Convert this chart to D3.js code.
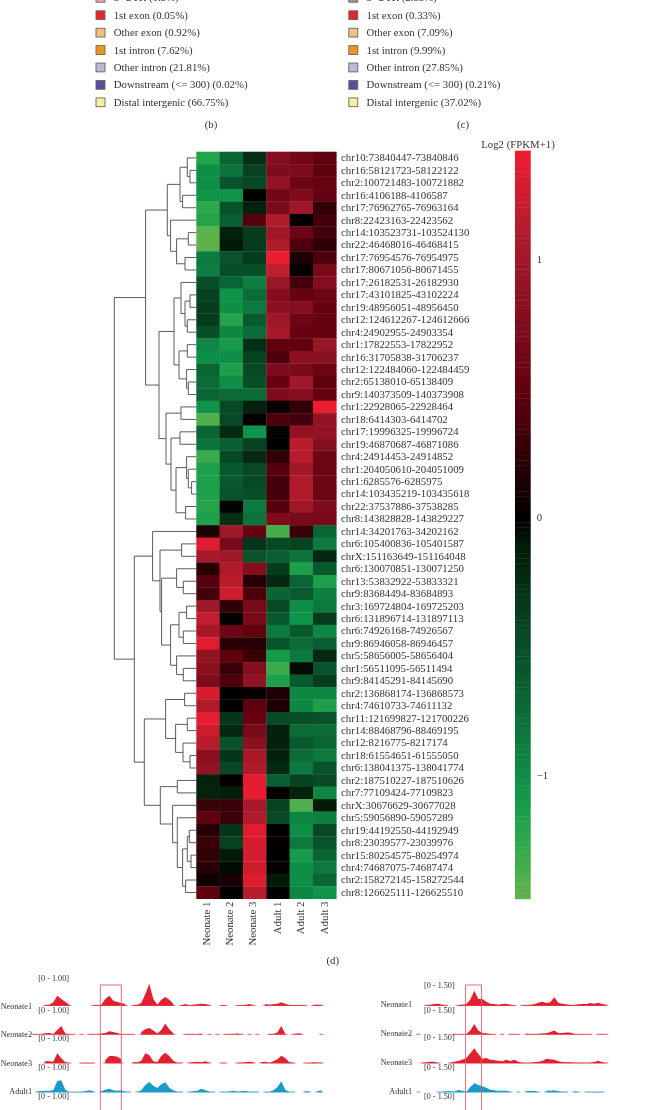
<!DOCTYPE html>
<html>
<head>
<meta charset="utf-8">
<title>Figure</title>
<script src="https://cdn.jsdelivr.net/npm/d3@7"></script>
<style>
html, body { margin: 0; padding: 0; background: #fff; }
svg { display: block; filter: blur(0.35px); }
text { font-family: "Liberation Serif", serif; fill: #333; }
</style>
</head>
<body>
<script>
// ---- data ----------------------------------------------------------------

// peak annotation legends, panels b and c
var legendNames = ["5'-UTR", "1st exon", "Other exon", "1st intron", "Other intron", "Downstream (<= 300)", "Distal intergenic"];
var legendColors = ["#f0a3a5", "#e3262e", "#f4c07c", "#f0951f", "#c4b6d6", "#5f4b97", "#f2f0a2"];
var legendPercentB = ["0.3%", "0.05%", "0.92%", "7.62%", "21.81%", "0.02%", "66.75%"];
var legendPercentC = ["2.85%", "0.33%", "7.09%", "9.99%", "27.85%", "0.21%", "37.02%"];

// heatmap, panel d
var sampleLabels = ["Neonate 1", "Neonate 2", "Neonate 3", "Adult 1", "Adult 2", "Adult 3"];
var rowLabels = [
  "chr10:73840447-73840846", "chr16:58121723-58122122", "chr2:100721483-100721882",
  "chr16:4106188-4106587", "chr17:76962765-76963164", "chr8:22423163-22423562",
  "chr14:103523731-103524130", "chr22:46468016-46468415", "chr17:76954576-76954975",
  "chr17:80671056-80671455", "chr17:26182531-26182930", "chr17:43101825-43102224",
  "chr19:48956051-48956450", "chr12:124612267-124612666", "chr4:24902955-24903354",
  "chr1:17822553-17822952", "chr16:31705838-31706237", "chr12:122484060-122484459",
  "chr2:65138010-65138409", "chr9:140373509-140373908", "chr1:22928065-22928464",
  "chr18:6414303-6414702", "chr17:19996325-19996724", "chr19:46870687-46871086",
  "chr4:24914453-24914852", "chr1:204050610-204051009", "chr1:6285576-6285975",
  "chr14:103435219-103435618", "chr22:37537886-37538285", "chr8:143828828-143829227",
  "chr14:34201763-34202162", "chr6:105400836-105401587", "chrX:151163649-151164048",
  "chr6:130070851-130071250", "chr13:53832922-53833321", "chr9:83684494-83684893",
  "chr3:169724804-169725203", "chr6:131896714-131897113", "chr6:74926168-74926567",
  "chr9:86946058-86946457", "chr5:58656005-58656404", "chr1:56511095-56511494",
  "chr9:84145291-84145690", "chr2:136868174-136868573", "chr4:74610733-74611132",
  "chr11:121699827-121700226", "chr14:88468796-88469195", "chr12:8216775-8217174",
  "chr18:61554651-61555050", "chr6:138041375-138041774", "chr2:187510227-187510626",
  "chr7:77109424-77109823", "chrX:30676629-30677028", "chr5:59056890-59057289",
  "chr19:44192550-44192949", "chr8:23039577-23039976", "chr15:80254575-80254974",
  "chr4:74687075-74687474", "chr2:158272145-158272544", "chr8:126625111-126625510"
];
var heatValues = [
  [-1.2, -0.7, -0.25, 0.8, 0.65, 0.5],
  [-1.0, -0.8, -0.4, 0.75, 0.75, 0.5],
  [-1.0, -0.55, -0.45, 0.9, 0.6, 0.55],
  [-1.05, -1.05, 0.0, 0.65, 0.75, 0.55],
  [-1.25, -0.55, -0.15, 0.7, 1.0, 0.25],
  [-1.2, -0.65, 0.45, 1.1, 0.0, 0.35],
  [-1.45, -0.15, -0.35, 1.0, 0.6, 0.35],
  [-1.45, -0.1, -0.35, 1.1, 0.4, 0.25],
  [-0.85, -0.55, -0.35, 1.4, 0.15, 0.4],
  [-0.9, -0.5, -0.5, 1.2, 0.02, 0.7],
  [-0.5, -0.7, -0.9, 0.95, 0.35, 0.8],
  [-0.4, -1.05, -0.75, 0.8, 0.55, 0.6],
  [-0.35, -1.0, -0.85, 0.85, 0.8, 0.55],
  [-0.35, -1.2, -0.6, 1.0, 0.6, 0.55],
  [-0.5, -0.95, -0.75, 1.05, 0.55, 0.55],
  [-0.95, -1.1, -0.25, 0.5, 0.5, 0.95],
  [-1.0, -1.0, -0.4, 0.4, 0.85, 0.85],
  [-0.7, -1.15, -0.45, 0.75, 0.7, 0.6],
  [-0.75, -1.0, -0.5, 0.55, 1.0, 0.5],
  [-0.7, -0.75, -0.75, 0.75, 0.8, 0.55],
  [-1.05, -0.45, -0.15, 0.03, 0.25, 1.4],
  [-1.4, -0.45, 0.0, 0.4, 0.35, 0.9],
  [-0.7, -0.2, -1.05, 0.0, 0.9, 0.9],
  [-0.8, -0.65, -0.4, 0.0, 1.15, 0.8],
  [-1.3, -0.45, -0.2, 0.25, 1.15, 0.6],
  [-1.15, -0.6, -0.45, 0.45, 1.0, 0.6],
  [-1.15, -0.6, -0.45, 0.35, 1.1, 0.6],
  [-1.15, -0.55, -0.5, 0.35, 1.1, 0.6],
  [-1.2, -0.02, -0.85, 0.45, 1.0, 0.75],
  [-1.15, -0.25, -0.8, 0.75, 0.7, 0.7],
  [0.15, 1.0, 0.55, -1.35, 0.3, -0.7],
  [1.35, 0.7, -0.3, -0.45, -0.4, -0.85],
  [1.05, 1.0, -0.55, -0.65, -0.8, -0.2],
  [0.2, 1.1, 0.8, -0.35, -1.15, -0.6],
  [0.45, 1.15, 0.2, -0.2, -0.7, -1.15],
  [0.35, 1.25, 0.4, -0.7, -0.6, -0.9],
  [1.0, 0.25, 0.7, -0.45, -1.0, -0.85],
  [1.2, 0.03, 0.7, -0.6, -1.05, -0.35],
  [1.05, 0.6, 0.5, -0.85, -0.6, -0.95],
  [1.35, 0.2, 0.2, -0.55, -0.75, -0.65],
  [0.9, 0.5, 0.3, -1.1, -0.85, -0.2],
  [0.85, 0.3, 0.8, -1.3, -0.05, -0.55],
  [0.75, 0.4, 0.9, -1.15, -0.6, -0.35],
  [1.3, 0.01, 0.03, 0.15, -0.95, -0.95],
  [1.1, 0.01, 0.5, 0.15, -0.95, -1.15],
  [1.4, -0.3, 0.55, -0.45, -0.5, -0.55],
  [1.25, -0.2, 0.7, -0.15, -0.75, -0.75],
  [1.15, -0.55, 0.85, -0.15, -0.6, -0.7],
  [0.85, -0.3, 1.05, -0.15, -0.75, -0.85],
  [0.9, -0.45, 1.1, -0.2, -0.85, -0.55],
  [-0.15, 0.02, 1.35, -0.65, -0.4, -0.45],
  [-0.15, -0.12, 1.38, 0.02, -0.15, -0.95],
  [0.3, 0.3, 1.05, -0.4, -1.4, -0.1],
  [0.5, 0.3, 1.1, -0.45, -0.95, -0.9],
  [0.2, -0.3, 1.35, 0.01, -1.0, -0.45],
  [0.3, -0.4, 1.3, 0.02, -0.85, -0.55],
  [0.25, -0.1, 1.3, 0.01, -1.1, -0.7],
  [0.2, -0.05, 1.25, 0.03, -1.0, -0.85],
  [0.08, 0.12, 1.35, -0.1, -1.0, -0.7],
  [0.5, 0.01, 1.15, 0.01, -0.95, -1.05]
];

// row dendrogram, hclust style: negative = row number, positive = earlier merge
var treeMerges = [
  [-2, -3, 6.3], [-1, 1, 9], [-4, -5, 13.7], [2, 3, 16.3], [-7, -8, 8], [-9, -10, 11.3],
  [5, 6, 19.7], [-6, 7, 25.7], [4, 8, 29], [-12, -13, 6.3], [-14, -15, 9], [10, 11, 11.3],
  [-11, 12, 15.3], [-16, -17, 9], [-19, -20, 8], [-18, 15, 9.7], [14, 16, 17.3], [13, 17, 22.3],
  [-21, -22, 15.3], [-23, -24, 16.3], [-27, -28, 4.7], [-26, 21, 8], [-25, 22, 9.7],
  [-29, -30, 10.7], [23, 24, 20.3], [20, 25, 25.3], [19, 26, 30.3], [18, 27, 37.3], [9, 28, 50.7],
  [-32, -33, 14.7], [-35, -36, 13], [-34, 31, 19.7], [-37, -38, 9.7], [-39, -40, 13],
  [33, 34, 17.3], [-42, -43, 13], [-41, 36, 19.7], [35, 37, 25.7], [32, 38, 34.7], [30, 39, 36.3],
  [-31, 40, 43.7], [-44, -45, 11.7], [-46, -47, 9], [-49, -50, 6.3], [-48, 44, 13.3],
  [43, 45, 20.7], [42, 46, 30.7], [-51, -52, 19], [-55, -56, 7], [-57, -58, 5.3], [49, 50, 9],
  [-59, -60, 10.7], [51, 52, 13.7], [-54, 53, 19], [-53, 54, 23.7], [48, 55, 36], [47, 56, 52],
  [41, 57, 62], [29, 58, 82]
];

// colour key
var keyStops = [-1.47, -1.25, -1.05, -0.7, -0.35, -0.1, 0, 0.25, 0.5, 0.75, 1.0, 1.2, 1.42];
var keyColors = ["#62b34c", "#2da84b", "#0f954a", "#0a6535", "#063c1e", "#021a08", "#000000",
                 "#300006", "#60000f", "#7e0c1c", "#9e1829", "#c21d2e", "#ee1c30"];
var keyTicks = [1, 0, -1];

// browser tracks, panel e (signal per genomic bin, null = no reads)
var n = null;
var leftNeonate1 = [n,n,n,2,3,10,30,20,12,3,n,n,n,n,n,1,1,3,20,30,15,11,8,5,n,2,3,8,35,66,20,3,18,26,18,6,n,1,5,1,3,4,6,5,2,n,n,2,1,n,n,1,1,2,5,1,n,n,5,3,4,6,10,6,2,1,1,1,1,n,3,3,3];
var leftNeonate2 = [1,1,1,4,5,2,14,26,3,1,1,n,1,n,1,1,1,3,5,10,8,5,1,1,1,1,n,8,16,20,12,3,14,33,16,4,n,n,1,2,1,1,3,n,4,n,3,n,1,2,2,3,1,n,1,n,1,n,n,2,2,6,26,2,n,2,3,3,n,n,n,n,1];
var leftNeonate3 = [n,n,n,7,6,5,30,15,3,1,n,n,1,1,1,1,n,n,10,22,22,20,12,n,n,3,3,8,30,25,6,4,22,32,22,8,2,1,n,2,3,5,3,6,2,n,n,1,1,n,n,1,2,3,5,3,n,4,5,1,6,12,23,16,3,2,n,n,1,1,3,2,2];
var leftAdult1 = [n,3,4,5,4,7,34,36,8,1,1,1,2,3,6,4,n,3,8,11,6,5,6,2,1,n,1,6,22,31,20,13,24,30,14,6,1,2,n,1,3,5,11,6,2,1,n,1,1,2,5,2,3,5,1,2,1,n,1,1,6,15,33,8,1,1,n,n,5,2,n,3,6];
var rightNeonate1 = [n,n,2,3,5,6,3,1,n,n,2,3,5,18,45,20,20,12,6,5,3,5,6,3,1,n,1,2,3,4,9,12,8,10,25,9,6,4,2,2,4,5,5,8,6,9,5,3];
var rightNeonate2 = [1,n,n,n,n,n,n,n,n,1,1,1,2,12,32,12,5,4,2,1,n,1,n,1,1,1,n,3,1,2,2,3,4,8,12,5,5,6,6,2,1,1,1,1,n,1,1,1];
var rightNeonate3 = [n,1,3,5,5,1,n,n,2,5,7,11,16,30,45,28,14,16,11,9,8,6,11,7,11,5,2,1,2,3,5,7,14,12,11,6,4,3,3,2,2,2,1,2,4,8,3,1];
var rightAdult1 = [1,n,n,n,n,1,1,3,3,2,7,5,1,16,27,22,18,14,8,6,5,5,5,2,n,2,n,3,4,5,1,n,5,5,6,3,1,2,n,3,1,n,1,1,1,1,2,n];
var trackNames = ["Neonate1", "Neonate2", "Neonate3", "Adult1"];
var leftRangeLabel = "[0 - 1.00]";
var rightRangeLabel = "[0 - 1.50]";

// ---- layout ----------------------------------------------------------------

var svg = d3.select("body").append("svg")
    .attr("width", 670)
    .attr("height", 1110);

// ---- legends ---------------------------------------------------------------

function drawLegend(percents, swatchX, textX, topColor) {
  var g = svg.append("g");
  var y = d3.scaleLinear().domain([0, 6]).range([-2.1, 102.4]);
  var rows = g.selectAll("g").data(legendNames).enter().append("g")
      .attr("transform", function(d, i) { return "translate(0," + y(i) + ")"; });
  rows.append("rect")
      .attr("x", swatchX)
      .attr("y", -4.5)
      .attr("width", 9)
      .attr("height", 8.8)
      .attr("fill", function(d, i) { return i == 0 ? topColor : legendColors[i]; })
      .attr("stroke", "#666")
      .attr("stroke-width", 0.9);
  rows.append("text")
      .attr("x", textX)
      .attr("y", 3.4)
      .attr("font-size", 10.8)
      .attr("fill", "#444")
      .text(function(d, i) { return d + " (" + percents[i] + ")"; });
}
drawLegend(legendPercentB, 96, 113.7, legendColors[0]);
drawLegend(legendPercentC, 348.8, 366.5, "#a88f90");

function caption(text, x, y) {
  svg.append("text")
      .attr("x", x)
      .attr("y", y)
      .attr("text-anchor", "middle")
      .attr("font-size", 10.8)
      .attr("fill", "#444")
      .text(text);
}
caption("(b)", 211, 128);
caption("(c)", 463, 128);
caption("(d)", 332.7, 964);

// ---- heatmap ---------------------------------------------------------------

var x = d3.scaleBand()
    .domain(sampleLabels)
    .range([196.3, 336.3]);

var y = d3.scaleBand()
    .domain(rowLabels)
    .range([151.7, 898.7]);

var color = d3.scaleLinear()
    .domain(keyStops)
    .range(keyColors);

var rows = svg.append("g").selectAll("g")
    .data(heatValues)
    .enter().append("g")
    .attr("transform", function(d, i) { return "translate(0," + y(rowLabels[i]) + ")"; });

rows.selectAll("rect")
    .data(function(d) { return d; })
    .enter().append("rect")
    .attr("x", function(d, i) { return x(sampleLabels[i]); })
    .attr("width", x.bandwidth() + 0.3)
    .attr("height", y.bandwidth() + 0.3)
    .attr("fill", function(d) { return color(d); });

// row labels
svg.append("g").selectAll("text")
    .data(rowLabels)
    .enter().append("text")
    .attr("x", 341)
    .attr("y", function(d) { return y(d) + y.bandwidth() / 2 + 3.4; })
    .attr("font-size", 10.8)
    .text(function(d) { return d; });

// column labels
svg.append("g").selectAll("text")
    .data(sampleLabels)
    .enter().append("text")
    .attr("transform", function(d, i) {
      return "translate(" + (x(d) + x.bandwidth() / 2 + (i < 3 ? 1.6 : 3)) + ",901.5) rotate(-90)";
    })
    .attr("text-anchor", "end")
    .attr("font-size", 10.8)
    .text(function(d) { return d; });

// ---- dendrogram ------------------------------------------------------------

var treeX = d3.scaleLinear()
    .domain([0, 82])
    .range([196.3, 114.3]);

var treeNodes = [];

function nodeOf(id) {
  if (id < 0) {
    return { x: treeX(0), y: y(rowLabels[-id - 1]) + y.bandwidth() / 2 };
  }
  return treeNodes[id - 1];
}

var treePath = d3.path();
treeMerges.forEach(function(m) {
  var a = nodeOf(m[0]), b = nodeOf(m[1]), hx = treeX(m[2]);
  treePath.moveTo(a.x, a.y);
  treePath.lineTo(hx, a.y);
  treePath.lineTo(hx, b.y);
  treePath.lineTo(b.x, b.y);
  treeNodes.push({ x: hx, y: (a.y + b.y) / 2 });
});

svg.append("path")
    .attr("d", treePath.toString())
    .attr("fill", "none")
    .attr("stroke", "#4a4a4a")
    .attr("stroke-width", 0.9);

// ---- colour key ------------------------------------------------------------

var keyY = d3.scaleLinear()
    .domain([1, -1])
    .range([259, 775]);

var keyValues = d3.range(1.42, -1.47, -0.02);

svg.append("g").selectAll("rect")
    .data(keyValues)
    .enter().append("rect")
    .attr("x", 515)
    .attr("y", function(d) { return keyY(d); })
    .attr("width", 15.7)
    .attr("height", keyY(0) - keyY(0.02) + 0.4)
    .attr("fill", function(d) { return color(d); });

var keyAxis = svg.append("g")
    .attr("transform", "translate(530.7,0)")
    .call(d3.axisRight(keyY).tickValues(keyTicks).tickSize(0).tickPadding(6).tickFormat(d3.format("d")));
keyAxis.select(".domain").remove();
keyAxis.selectAll("text")
    .attr("font-family", null)
    .attr("font-size", 10.8);

svg.append("text")
    .attr("x", 518)
    .attr("y", 147.5)
    .attr("text-anchor", "middle")
    .attr("font-size", 10.8)
    .text("Log2 (FPKM+1)");

// ---- browser tracks --------------------------------------------------------

var signal = d3.scaleLinear()
    .domain([0, 66])
    .range([0, 22]);

var baselines = [1005.7, 1034.6, 1063.3, 1092.3];
var trackColors = ["#e3202f", "#e3202f", "#e3202f", "#1b9ac9"];

function drawTracks(series, binX) {
  series.forEach(function(values, k) {
    var g = svg.append("g")
        .attr("transform", "translate(0," + baselines[k] + ")");
    var area = d3.area()
        .defined(function(d) { return d !== null; })
        .x(function(d, i) { return binX(i); })
        .y0(0)
        .y1(function(d) { return -signal(d); });
    g.append("path")
        .attr("d", area(values))
        .attr("fill", trackColors[k]);
    // every covered bin keeps a thin line on the baseline
    g.selectAll("rect")
        .data(values.map(function(d, i) { return { v: d, i: i }; }).filter(function(d) { return d.v !== null; }))
        .enter().append("rect")
        .attr("x", function(d) { return binX(d.i) - 2; })
        .attr("y", -0.8)
        .attr("width", 4)
        .attr("height", 0.9)
        .attr("fill", trackColors[k])
        .attr("opacity", 0.8);
  });
}

drawTracks([leftNeonate1, leftNeonate2, leftNeonate3, leftAdult1],
  d3.scaleLinear().domain([0, 72]).range([33.3, 321.3]));
drawTracks([rightNeonate1, rightNeonate2, rightNeonate3, rightAdult1],
  d3.scaleLinear().domain([0, 47]).range([418.3, 606.3]));

// region boxes
function regionBox(x0, x1) {
  svg.append("rect")
      .attr("x", x0)
      .attr("y", 985)
      .attr("width", x1 - x0)
      .attr("height", 140)
      .attr("fill", "none")
      .attr("stroke", "#e4606f")
      .attr("stroke-width", 0.9);
}
regionBox(100.3, 121.3);
regionBox(465.6, 481.6);

function trackText(labels, x0, ys, anchor) {
  svg.append("g").selectAll("text")
      .data(labels)
      .enter().append("text")
      .attr("x", x0)
      .attr("y", function(d, i) { return ys[i]; })
      .attr("text-anchor", anchor)
      .attr("font-size", 8.2)
      .attr("fill", "#444")
      .text(function(d) { return d; });
}
trackText(trackNames, 32, [1008.5, 1037, 1066, 1094], "end");
trackText(trackNames, 412, [1006.5, 1036, 1065, 1094], "end");
trackText(d3.range(5).map(function() { return leftRangeLabel; }), 38.3, [981, 1013, 1041, 1070, 1099], "start");
trackText(d3.range(5).map(function() { return rightRangeLabel; }), 424, [988, 1013, 1040, 1070, 1099], "start");
</script>
</body>
</html>
